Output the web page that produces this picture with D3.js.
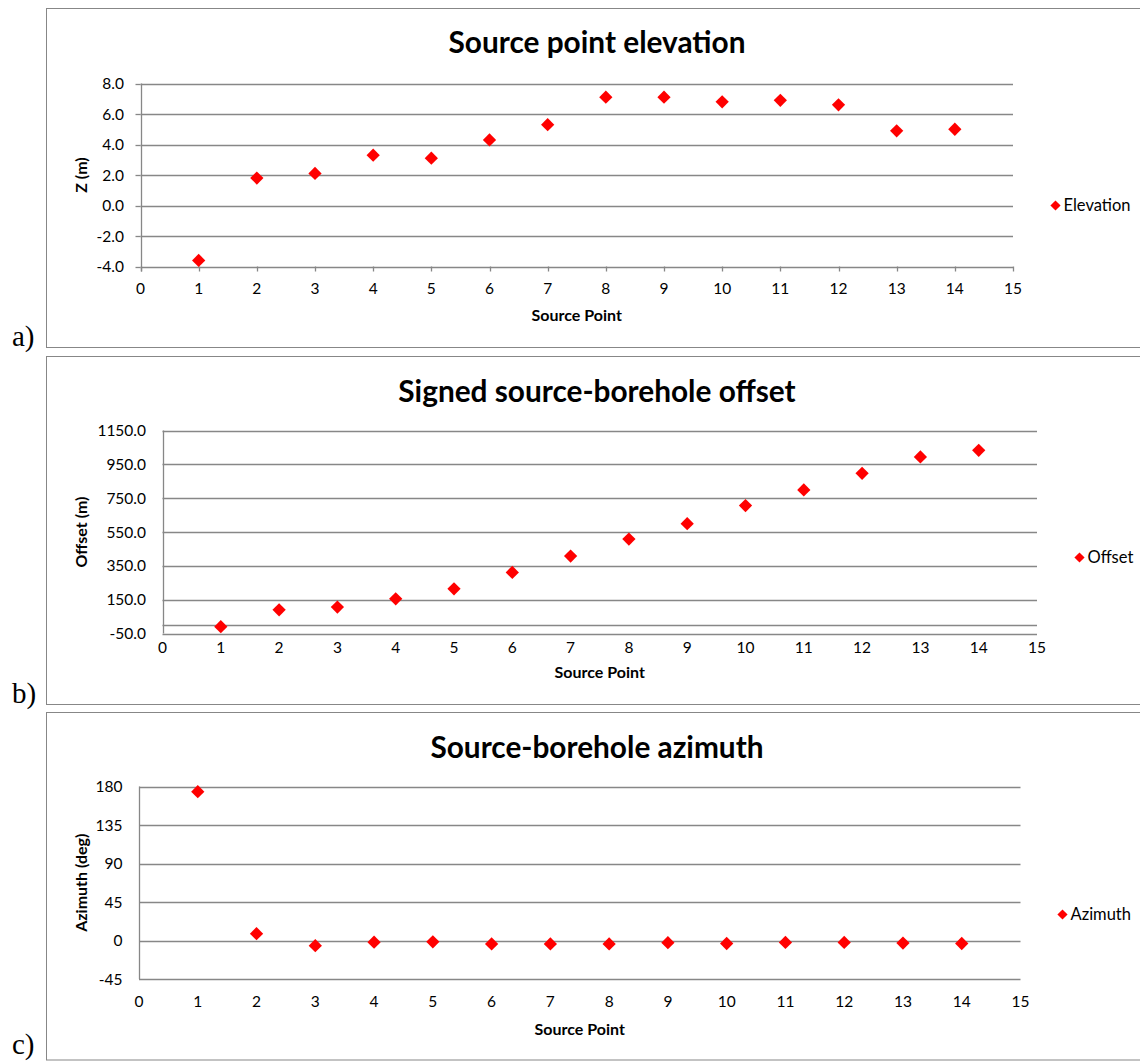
<!DOCTYPE html>
<html>
<head>
<meta charset="utf-8">
<script src="https://cdn.jsdelivr.net/npm/d3@7"></script>
<style>
  html, body { margin: 0; padding: 0; background: #fff; }
  svg { display: block; }
  text { font-family: Lato, "Open Sans", sans-serif; fill: #000; }
</style>
</head>
<body>
<svg id="chart" width="1140" height="1061"></svg>
<script>
// ---- data ----
const sourcePoints = [1, 2, 3, 4, 5, 6, 7, 8, 9, 10, 11, 12, 13, 14];
const xTicks = [0, 1, 2, 3, 4, 5, 6, 7, 8, 9, 10, 11, 12, 13, 14, 15];

const elevation = [-3.6, 1.8, 2.1, 3.3, 3.1, 4.3, 5.3, 7.1, 7.1, 6.8, 6.9, 6.6, 4.9, 5.0];
const elevationTicks = [-4, -2, 0, 2, 4, 6, 8];

const offset = [-10, 90, 106, 155, 214, 311, 408, 508, 599, 706, 799, 897, 994, 1033];
const offsetTicks = [-50, 150, 350, 550, 750, 950, 1150];

const azimuth = [174, 8, -6, -2, -1.5, -4, -4, -4, -2.5, -3.5, -2.3, -2.3, -3, -3.5];
const azimuthTicks = [-45, 0, 45, 90, 135, 180];

const titles = ["Source point elevation", "Signed source-borehole offset", "Source-borehole azimuth"];
const yTitles = ["Z (m)", "Offset (m)", "Azimuth (deg)"];
const seriesNames = ["Elevation", "Offset", "Azimuth"];
const panelLetters = ["a)", "b)", "c)"];
const xTitle = "Source Point";

// ---- layout (positions / styles) ----
const GRID = "#878787";
const RED = "#ff0000";
const panels = [
  { values: elevation, ticks: elevationTicks, fmt: d => d.toFixed(1),
    frame: [8.5, 347.5], px: [140.5, 1013], py: [266.5, 83.5],
    titleY: 53, yTitleX: 81, tickRight: 124, xLabY: 294, xTitleY: 321,
    legend: [1055.5, 205.5], ticksMarks: true, zeroLine: false, letterY: 346 },
  { values: offset, ticks: offsetTicks, fmt: d => d.toFixed(1),
    frame: [356.5, 704.5], px: [162.5, 1037], py: [633.5, 430.5],
    titleY: 402, yTitleX: 81, tickRight: 146, xLabY: 653, xTitleY: 678,
    legend: [1079.5, 557.5], ticksMarks: false, zeroLine: true, letterY: 703 },
  { values: azimuth, ticks: azimuthTicks, fmt: d => String(d),
    frame: [712.5, 1060], px: [139, 1020.5], py: [979, 786.5],
    titleY: 758, yTitleX: 80.5, tickRight: 122.5, xLabY: 1007, xTitleY: 1035,
    legend: [1062.5, 914.5], ticksMarks: false, zeroLine: false, letterY: 1054 }
];

const svg = d3.select("#chart");
const diamond = d3.symbol().type(d3.symbolSquare).size(88);
const legendDiamond = d3.symbol().type(d3.symbolSquare).size(52);

panels.forEach((p, i) => {
  const g = svg.append("g");
  const x = d3.scaleLinear().domain([0, 15]).range(p.px);
  const y = d3.scaleLinear().domain(d3.extent(p.ticks)).range(p.py);

  // frame
  g.append("rect")
    .attr("x", 46.5).attr("y", p.frame[0])
    .attr("width", 1110).attr("height", p.frame[1] - p.frame[0])
    .attr("fill", "none").attr("stroke", GRID).attr("stroke-width", 1);

  // panel letter
  g.append("text")
    .attr("x", 12).attr("y", p.letterY)
    .style("font-family", "'Liberation Serif', 'Times New Roman', serif")
    .style("font-size", "29px")
    .text(panelLetters[i]);

  // title
  g.append("text")
    .attr("x", 597).attr("y", p.titleY)
    .attr("text-anchor", "middle")
    .style("font-size", "29.8px").style("font-weight", "bold")
    .text(titles[i]);

  // gridlines
  g.append("g").selectAll("line").data(p.ticks).join("line")
    .attr("x1", p.px[0]).attr("x2", p.px[1])
    .attr("y1", d => Math.round(y(d)) + 0.5).attr("y2", d => Math.round(y(d)) + 0.5)
    .attr("stroke", GRID).attr("stroke-width", 1.3);

  if (p.zeroLine) {
    g.append("line")
      .attr("x1", p.px[0]).attr("x2", p.px[1])
      .attr("y1", Math.round(y(0)) + 0.5).attr("y2", Math.round(y(0)) + 0.5)
      .attr("stroke", GRID).attr("stroke-width", 1.3);
  }

  // y axis line
  g.append("line")
    .attr("x1", Math.round(p.px[0]) + 0.5).attr("x2", Math.round(p.px[0]) + 0.5)
    .attr("y1", p.py[1]).attr("y2", p.py[0] + (p.ticksMarks ? 5 : 0))
    .attr("stroke", GRID).attr("stroke-width", 1.3);

  // tick marks
  if (p.ticksMarks) {
    g.append("g").selectAll("line").data(xTicks).join("line")
      .attr("x1", d => Math.round(x(d)) + 0.5).attr("x2", d => Math.round(x(d)) + 0.5)
      .attr("y1", p.py[0]).attr("y2", p.py[0] + 5)
      .attr("stroke", GRID).attr("stroke-width", 1.3);
    g.append("g").selectAll("line").data(p.ticks).join("line")
      .attr("x1", p.px[0] - 5).attr("x2", p.px[0])
      .attr("y1", d => Math.round(y(d)) + 0.5).attr("y2", d => Math.round(y(d)) + 0.5)
      .attr("stroke", GRID).attr("stroke-width", 1.3);
  }

  // y tick labels
  g.append("g").selectAll("text").data(p.ticks).join("text")
    .attr("x", p.tickRight).attr("y", d => y(d))
    .attr("dy", "0.36em").attr("text-anchor", "end")
    .style("font-size", "15.5px")
    .text(p.fmt);

  // x tick labels
  g.append("g").selectAll("text").data(xTicks).join("text")
    .attr("x", d => x(d)).attr("y", p.xLabY)
    .attr("text-anchor", "middle")
    .style("font-size", "15.5px")
    .text(d => d);

  // axis titles
  g.append("text")
    .attr("x", (p.px[0] + p.px[1]) / 2).attr("y", p.xTitleY)
    .attr("text-anchor", "middle")
    .style("font-size", "16px").style("font-weight", "bold")
    .text(xTitle);

  const yc = (p.py[0] + p.py[1]) / 2;
  g.append("text")
    .attr("transform", `translate(${p.yTitleX + 6},${yc}) rotate(-90)`)
    .attr("text-anchor", "middle")
    .style("font-size", "16px").style("font-weight", "bold")
    .text(yTitles[i]);

  // points
  g.append("g").selectAll("path").data(sourcePoints).join("path")
    .attr("d", diamond)
    .attr("transform", (d, k) => `translate(${x(d)},${y(p.values[k])}) rotate(45)`)
    .attr("fill", RED);

  // legend
  g.append("path")
    .attr("d", legendDiamond)
    .attr("transform", `translate(${p.legend[0]},${p.legend[1]}) rotate(45)`)
    .attr("fill", RED);
  g.append("text")
    .attr("x", p.legend[0] + 8).attr("y", p.legend[1])
    .attr("dy", "0.36em")
    .style("font-size", "16.5px")
    .text(seriesNames[i]);
});
</script>
</body>
</html>
